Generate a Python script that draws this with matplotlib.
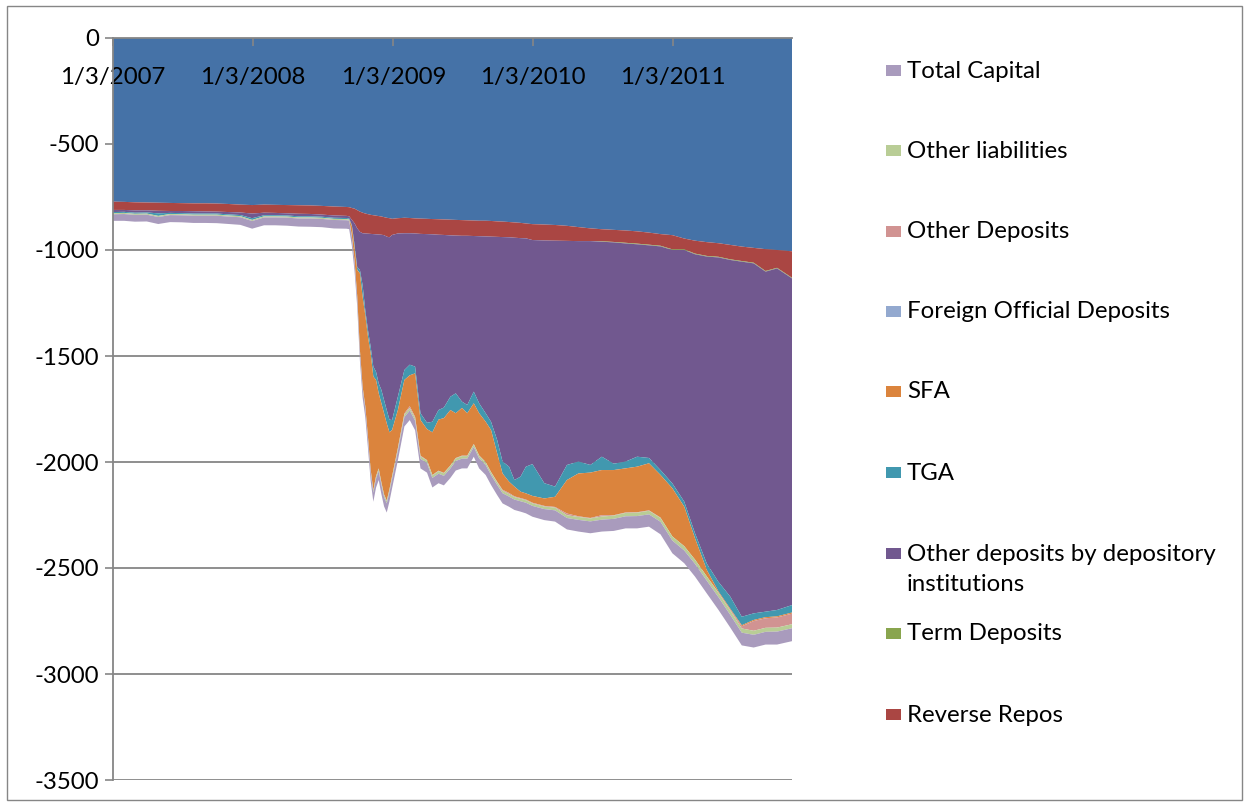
import matplotlib
matplotlib.use("Agg")
import matplotlib.pyplot as plt
import numpy as np
import pandas as pd
from matplotlib.patches import Rectangle

plt.rcParams['font.family'] = ['Lato', 'DejaVu Sans']
plt.rcParams['axes.unicode_minus'] = False

# observation dates (monthly before the crisis, weekly in autumn 2008, then twice a month / monthly)
dates = pd.to_datetime([
    "2007-01-03", "2007-02-01", "2007-03-01", "2007-04-01", "2007-05-01", "2007-06-01", "2007-07-01",
    "2007-08-01", "2007-09-01", "2007-10-01", "2007-11-01", "2007-12-01", "2008-01-01", "2008-02-01",
    "2008-03-01", "2008-04-01", "2008-05-01", "2008-06-01", "2008-07-01", "2008-08-01",
    "2008-09-03", "2008-09-10", "2008-09-17", "2008-09-24", "2008-10-01", "2008-10-08", "2008-10-15",
    "2008-10-22", "2008-10-29", "2008-11-05", "2008-11-12", "2008-11-19", "2008-11-26", "2008-12-03",
    "2008-12-10", "2008-12-17", "2008-12-24", "2008-12-31",
    "2009-01-15", "2009-02-01", "2009-02-15", "2009-03-01", "2009-03-15", "2009-04-01", "2009-04-15",
    "2009-05-01", "2009-05-15", "2009-06-01", "2009-06-15", "2009-07-01", "2009-07-15", "2009-08-01",
    "2009-08-15", "2009-09-01", "2009-09-15", "2009-10-01", "2009-10-15", "2009-11-01", "2009-11-15",
    "2009-12-01", "2009-12-15",
    "2010-01-01", "2010-02-01", "2010-03-01", "2010-04-01", "2010-05-01", "2010-06-01", "2010-07-01",
    "2010-08-01", "2010-09-01", "2010-10-01", "2010-11-01", "2010-12-01",
    "2011-01-01", "2011-02-01", "2011-03-01", "2011-04-01", "2011-05-01", "2011-06-01", "2011-07-01",
    "2011-08-01", "2011-09-01", "2011-10-01", "2011-11-09",
])

# liabilities, $bn (plotted as negatives)
currency = [
    772, 773, 775, 776, 777, 778, 779, 780, 780, 781, 783, 786, 788, 786, 787, 788, 789, 790, 792, 795,
    797, 798, 802, 805, 812, 819, 824, 828, 831, 834, 836, 838, 840, 842, 845, 848, 850, 853,
    850, 848, 849, 851, 852, 853, 854, 855, 856, 857, 858, 859, 860, 861, 862, 862, 863, 865, 866, 868,
    870, 872, 875,
    878, 880, 882, 886, 892, 898, 902, 905, 908, 912, 918, 925,
    930, 946, 956, 963, 968, 976, 984, 990, 996, 1000, 1006,
]
reverse_repos = [
    39, 38, 38, 37, 38, 38, 37, 37, 38, 38, 38, 37, 40, 38, 38, 39, 40, 40, 41, 42,
    42, 43, 56, 69, 86, 95, 97, 94, 92, 90, 89, 88, 87, 86, 85, 89, 90, 76,
    72, 73, 72, 71, 72, 72, 72, 73, 73, 74, 74, 74, 73, 73, 73, 74, 74, 73, 73, 72, 72, 72, 70,
    75, 75, 74, 71, 66, 60, 57, 57, 58, 58, 57, 55,
    67, 51, 61, 65, 64, 68, 68, 70, 103, 84, 125,
]
term_deposits = [
    0, 0, 0, 0, 0, 0, 0, 0, 0, 0, 0, 0, 0, 0, 0, 0, 0, 0, 0, 0,
    0, 0, 0, 0, 0, 0, 0, 0, 0, 0, 0, 0, 0, 0, 0, 0, 0, 0,
    0, 0, 0, 0, 0, 0, 0, 0, 0, 0, 0, 0, 0, 0, 0, 0, 0, 0, 0, 0, 0, 0, 0,
    0, 0, 0, 0, 0, 0, 2, 2, 3, 3, 3, 3,
    3, 3, 3, 3, 3, 3, 3, 3, 3, 3, 3,
]
depository_deposits = [
    10, 9, 11, 10, 12, 9, 10, 11, 10, 9, 11, 12, 22, 12, 11, 10, 12, 11, 10, 11,
    10, 10, 24, 100, 184, 180, 244, 361, 454, 532, 625, 648, 702, 732, 778, 818, 860, 873,
    770, 645, 620, 628, 846, 890, 884, 827, 814, 761, 744, 782, 798, 734, 788, 834, 873, 958, 1059,
    1082, 1143, 1125, 1077,
    1057, 1145, 1160, 1057, 1040, 1056, 1014, 1044, 1029, 1002, 1003, 1055,
    1101, 1187, 1316, 1449, 1530, 1588, 1675, 1651, 1604, 1611, 1541,
]
tga = [
    5, 5, 5, 5, 12, 5, 5, 5, 5, 5, 5, 5, 8, 5, 5, 5, 5, 5, 5, 5,
    5, 5, 5, 16, 12, 16, 55, 24, 32, 31, 47, 39, 47, 63, 62, 63, 60, 47,
    63, 47, 50, 32, 32, 30, 50, 45, 50, 63, 94, 30, 39, 55, 47, 40, 39, 63, 56, 71, 31, 71, 126,
    150, 72, 48, 71, 56, 36, 63, 30, 32, 47, 25, 23,
    23, 24, 24, 30, 45, 57, 40, 31, 26, 30, 35,
]
sfa = [
    0, 0, 0, 0, 0, 0, 0, 0, 0, 0, 0, 0, 0, 0, 0, 0, 0, 0, 0, 0,
    0, 0, 46, 61, 124, 362, 424, 430, 472, 548, 536, 454, 354, 373, 383, 364, 269, 217,
    179, 158, 146, 205, 168, 146, 201, 241, 258, 261, 211, 225, 200, 192, 199, 190, 198, 134, 77,
    53, 46, 30, 29,
    32, 35, 48, 158, 202, 214, 213, 213, 208, 215, 222, 201,
    227, 186, 100, 30, 5, 5, 5, 5, 5, 5, 5,
]
foreign_official = [
    0.1, 0.1, 0.1, 0.1, 0.1, 0.1, 0.1, 0.1, 0.1, 0.1, 0.1, 0.1, 0.1, 0.1, 0.1, 0.1, 0.1, 0.1, 0.1, 0.1,
    0.3, 0.3, 0.3, 0.3, 0.3, 0.3, 0.3, 0.3, 0.3, 0.3, 0.3, 0.3, 0.3, 0.3, 0.3, 0.3, 0.3, 0.3,
    0.2, 0.2, 0.2, 0.2, 0.2, 0.2, 0.2, 0.2, 0.2, 0.2, 0.2, 0.2, 0.2, 0.2, 0.2, 0.2, 0.2, 0.2, 0.2,
    0.2, 0.2, 0.2, 0.2,
    0.1, 0.1, 0.1, 0.1, 0.1, 0.1, 0.1, 0.1, 0.1, 0.1, 0.1, 0.1,
    0.1, 0.1, 0.1, 0.1, 0.1, 0.1, 0.1, 0.1, 0.1, 0.1, 0.1,
]
other_deposits = [
    0.3, 0.3, 0.3, 0.3, 0.3, 0.3, 0.3, 0.3, 0.3, 0.3, 0.3, 0.3, 0.3, 0.3, 0.3, 0.3, 0.3, 0.3, 0.3, 0.3,
    0.3, 0.3, 0.5, 1, 1, 1, 1, 1, 2, 2, 2, 2, 2, 2, 2, 2, 3, 3,
    3, 5, 8, 6, 3, 2, 2, 2, 2, 2, 2, 2, 2, 2, 2, 2, 2, 3, 4, 5, 3, 3, 3,
    3, 3, 3, 8, 3, 2, 6, 2, 2, 2, 2, 2,
    0.5, 0.5, 0.5, 0.5, 2, 4, 10, 46, 45, 48, 50,
]
other_liabilities = [
    5, 5, 5, 5, 5, 5, 5, 5, 5, 5, 5, 5, 5, 5, 5, 5, 5, 5, 5, 5,
    5, 5, 5, 6, 7, 8, 8, 8, 9, 9, 10, 10, 10, 10, 11, 11, 11, 11,
    11, 12, 12, 12, 12, 12, 12, 12, 12, 12, 12, 12, 12, 12, 12, 12, 12, 12, 12, 12, 12, 12, 12,
    12, 12, 13, 13, 14, 14, 15, 15, 16, 16, 17, 18,
    19, 20, 20, 20, 20, 20, 20, 19, 19, 19, 19,
]
total_capital = [
    31, 32, 32, 32, 33, 33, 33, 34, 34, 35, 35, 36, 36, 37, 37, 38, 38, 39, 39, 40,
    40, 40, 41, 41, 41, 41, 42, 42, 42, 42, 42, 42, 43, 43, 43, 43, 43, 43,
    44, 44, 45, 45, 45, 45, 45, 45, 45, 45, 45, 46, 46, 46, 47, 47, 47, 48, 48, 48, 49, 49, 50,
    51, 52, 53, 54, 55, 56, 56, 57, 57, 58, 58, 59,
    60, 60, 60, 60, 60, 60, 60, 60, 60, 61, 61,
]

names = ["Currency", "Reverse Repos", "Term Deposits", "Other deposits by depository\ninstitutions",
         "TGA", "SFA", "Foreign Official Deposits", "Other Deposits", "Other liabilities", "Total Capital"]
series = [currency, reverse_repos, term_deposits, depository_deposits, tga, sfa,
          foreign_official, other_deposits, other_liabilities, total_capital]
colors = ["#4572A7", "#AA4643", "#89A54E", "#71588F", "#4198AF", "#DB843D",
          "#93A9CF", "#D19392", "#B9CD96", "#A99BBD"]

tick_dates = pd.to_datetime(["2007-01-03", "2008-01-03", "2009-01-03", "2010-01-03", "2011-01-03"])
tick_labels = ["1/3/2007", "1/3/2008", "1/3/2009", "1/3/2010", "1/3/2011"]

W, H = 1248, 806
grey = "#868686"
fs = 17.3

fig = plt.figure(figsize=(W / 100, H / 100), dpi=100)
ax = fig.add_axes([113 / W, 1 - 780 / H, (792 - 113) / W, (780 - 38) / H])

yticks = np.arange(-3500, 1, 500)
# gridlines sit under the areas, axis and tick labels above them
for yv in yticks:
    ax.axhline(yv, color=grey, lw=1.3, zorder=0.5)

ax.stackplot(dates, *[-np.array(s, dtype=float) for s in series], colors=colors, linewidth=0, zorder=1)

ax.set_xlim(dates[0], dates[-1])
ax.set_ylim(-3500, 0)
ax.set_yticks(yticks)

ax.set_xticks(tick_dates)
ax.set_xticklabels(tick_labels)
ax.tick_params(axis="x", top=True, bottom=False, labeltop=True, labelbottom=False,
               direction="in", length=6, width=1.2, color=grey, pad=-36, labelsize=fs)
ax.tick_params(axis="y", direction="out", length=6, width=1.2, color=grey, pad=4, labelsize=fs)

for side in ["right", "bottom"]:
    ax.spines[side].set_visible(False)
for side in ["left", "top"]:
    ax.spines[side].set_color(grey)
    ax.spines[side].set_linewidth(1.3)

# legend drawn on the right, listed bottom-of-stack first (Excel style)
legend_y = [71, 151, 232, 312, 392, 473, 554, 634, 715]
for i, k in enumerate(range(len(series) - 1, 0, -1)):
    y = legend_y[i]
    fig.add_artist(Rectangle((886 / W, 1 - (y + 5) / H), 15 / W, 11 / H,
                             transform=fig.transFigure, facecolor=colors[k], edgecolor="none"))
    if "\n" in names[k]:
        fig.text(907 / W, 1 - (y - 10) / H, names[k], fontsize=fs, va="top", ha="left",
                 linespacing=1.55)
    else:
        fig.text(907 / W, 1 - y / H, names[k], fontsize=fs, va="center", ha="left")

# chart frame
fig.add_artist(Rectangle((7 / W, 6 / H), (1242 - 7) / W, (800 - 6) / H, transform=fig.transFigure,
                         fill=False, edgecolor=grey, linewidth=1.0))

fig.savefig("out.png", dpi=100)
